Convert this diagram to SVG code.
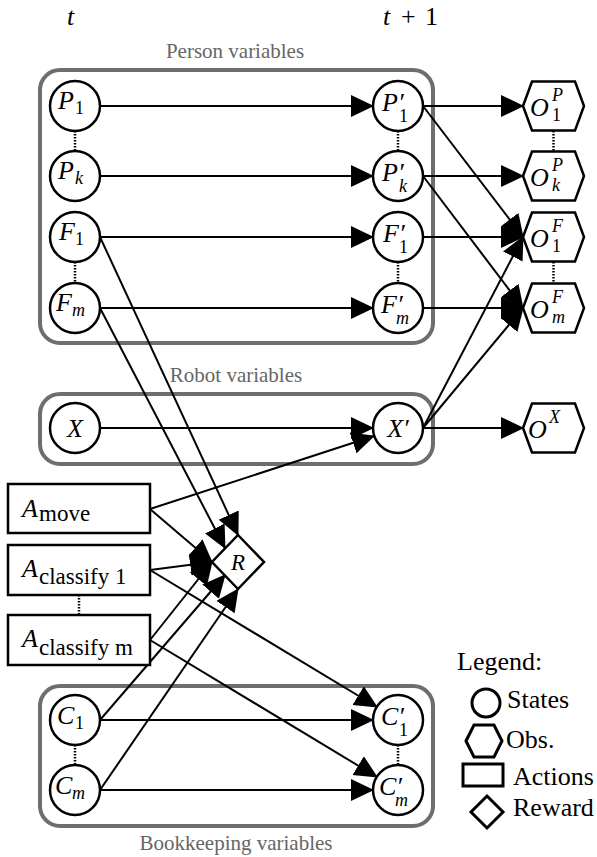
<svg xmlns="http://www.w3.org/2000/svg" width="597" height="857" viewBox="0 0 597 857">
<style>
.st{fill:#fff;stroke:#000;stroke-width:2.5}
.lg{fill:#fff;stroke:#000;stroke-width:3}
.grp{fill:none;stroke:#6e6e6e;stroke-width:4}
.e{stroke:#000;stroke-width:2;fill:none;marker-end:url(#arr)}
.dot{stroke:#000;stroke-width:2.5;stroke-dasharray:1.5 1.5}
.m{font-style:italic;font-size:26px;fill:#000}
.s{font-style:normal;font-size:18px}
.si{font-style:italic;font-size:18px}
.a{font-size:23px;fill:#000}
.lbl{font-size:21px;fill:#666;text-anchor:middle}
.leg{font-size:26px;fill:#000}
</style>
<defs>
<marker id="arr" markerUnits="userSpaceOnUse" markerWidth="24" markerHeight="24" refX="22" refY="11" orient="auto"><path d="M0,0 L23,11 L0,22 z" fill="#000"/></marker>
</defs>
<rect width="597" height="857" fill="#fff"/>

<g id="time-labels" font-family="Liberation Serif, serif">
<text class="m" x="67" y="25">t</text>
<text class="m" y="25"><tspan x="383">t</tspan><tspan x="401" style="font-style:normal">+</tspan><tspan x="425" style="font-style:normal">1</tspan></text>
</g>

<g id="groups" font-family="Liberation Serif, serif">
<rect id="person-box" class="grp" x="40" y="70" width="393" height="273" rx="20"/>
<text class="lbl" x="235" y="58">Person variables</text>
<rect id="robot-box" class="grp" x="40" y="394" width="393" height="70" rx="20"/>
<text class="lbl" x="236" y="382">Robot variables</text>
<rect id="bookkeeping-box" class="grp" x="40" y="686" width="393" height="140" rx="20"/>
<text class="lbl" x="236" y="850">Bookkeeping variables</text>
</g>

<g id="connectors">
<line class="e" x1="100" y1="106" x2="373" y2="106"/>
<line class="e" x1="100" y1="176" x2="373" y2="176"/>
<line class="e" x1="100" y1="237" x2="373" y2="237"/>
<line class="e" x1="100" y1="308" x2="373" y2="308"/>
<line class="e" x1="100" y1="428" x2="373" y2="428"/>
<line class="e" x1="100" y1="720" x2="373" y2="720"/>
<line class="e" x1="100" y1="790" x2="373" y2="790"/>
<line class="e" x1="423" y1="106" x2="523" y2="106"/>
<line class="e" x1="423" y1="176" x2="523" y2="176"/>
<line class="e" x1="423" y1="237" x2="523" y2="237"/>
<line class="e" x1="423" y1="308" x2="523" y2="308"/>
<line class="e" x1="423" y1="428" x2="523" y2="428"/>
<line class="e" x1="423" y1="106" x2="523" y2="237"/>
<line class="e" x1="423" y1="176" x2="523" y2="308"/>
<line class="e" x1="423" y1="428" x2="523" y2="237"/>
<line class="e" x1="423" y1="428" x2="523" y2="308"/>
<line class="e" x1="100" y1="237" x2="238" y2="535"/>
<line class="e" x1="100" y1="308" x2="225" y2="548"/>
<line class="e" x1="150" y1="509" x2="374" y2="436"/>
<line class="e" x1="150" y1="509" x2="212" y2="562"/>
<line class="e" x1="150" y1="570" x2="212" y2="562"/>
<line class="e" x1="150" y1="640" x2="212" y2="562"/>
<line class="e" x1="100" y1="720" x2="225" y2="575"/>
<line class="e" x1="100" y1="790" x2="238" y2="589"/>
<line class="e" x1="150" y1="570" x2="377" y2="707"/>
<line class="e" x1="150" y1="640" x2="377" y2="777"/>
</g>

<g id="dots">
<line class="dot" x1="75" y1="131" x2="75" y2="151"/>
<line class="dot" x1="75" y1="262" x2="75" y2="283"/>
<line class="dot" x1="398" y1="131" x2="398" y2="151"/>
<line class="dot" x1="398" y1="262" x2="398" y2="283"/>
<line class="dot" x1="553.5" y1="131" x2="553.5" y2="151"/>
<line class="dot" x1="553.5" y1="262" x2="553.5" y2="283"/>
<line class="dot" x1="75" y1="745" x2="75" y2="765"/>
<line class="dot" x1="398" y1="745" x2="398" y2="765"/>
<line class="dot" x1="79" y1="595" x2="79" y2="615"/>
</g>

<g id="nodes" font-family="Liberation Serif, serif">
<g id="P1"><circle class="st" cx="75" cy="106" r="25"/><text class="m" y="109"><tspan x="58">P</tspan><tspan class="s" x="75" y="114">1</tspan></text></g>
<g id="Pk"><circle class="st" cx="75" cy="176" r="25"/><text class="m" y="179"><tspan x="58">P</tspan><tspan class="si" x="75" y="184">k</tspan></text></g>
<g id="F1"><circle class="st" cx="75" cy="237" r="25"/><text class="m" y="240"><tspan x="59">F</tspan><tspan class="s" x="75" y="245">1</tspan></text></g>
<g id="Fm"><circle class="st" cx="75" cy="308" r="25"/><text class="m" y="311"><tspan x="56">F</tspan><tspan class="si" x="72" y="316">m</tspan></text></g>
<g id="P1p"><circle class="st" cx="398" cy="106" r="25"/><text class="m" y="111"><tspan x="382">P′</tspan><tspan class="s" x="399" y="122">1</tspan></text></g>
<g id="Pkp"><circle class="st" cx="398" cy="176" r="25"/><text class="m" y="181"><tspan x="382">P′</tspan><tspan class="si" x="399" y="192">k</tspan></text></g>
<g id="F1p"><circle class="st" cx="398" cy="237" r="25"/><text class="m" y="242"><tspan x="383">F′</tspan><tspan class="s" x="399" y="253">1</tspan></text></g>
<g id="Fmp"><circle class="st" cx="398" cy="308" r="25"/><text class="m" y="313"><tspan x="381">F′</tspan><tspan class="si" x="396" y="324">m</tspan></text></g>
<g id="X"><circle class="st" cx="75" cy="428" r="25"/><text class="m" x="75" y="437" text-anchor="middle">X</text></g>
<g id="Xp"><circle class="st" cx="398" cy="428" r="25"/><text class="m" x="398" y="437" text-anchor="middle">X′</text></g>
<g id="C1"><circle class="st" cx="75" cy="720" r="25"/><text class="m" y="724"><tspan x="57">C</tspan><tspan class="s" x="75" y="729">1</tspan></text></g>
<g id="Cm"><circle class="st" cx="75" cy="790" r="25"/><text class="m" y="794"><tspan x="55">C</tspan><tspan class="si" x="72" y="799">m</tspan></text></g>
<g id="C1p"><circle class="st" cx="398" cy="720" r="25"/><text class="m" y="725"><tspan x="381">C′</tspan><tspan class="s" x="399" y="736">1</tspan></text></g>
<g id="Cmp"><circle class="st" cx="398" cy="790" r="25"/><text class="m" y="795"><tspan x="379">C′</tspan><tspan class="si" x="395" y="806">m</tspan></text></g>

<g id="O1P"><polygon class="st" points="523,106 532,81.5 575,81.5 584,106 575,130.5 532,130.5"/><text class="m" y="116"><tspan x="530">O</tspan><tspan class="si" x="552" y="101">P</tspan><tspan class="s" x="552" y="121">1</tspan></text></g>
<g id="OkP"><polygon class="st" points="523,176 532,151.5 575,151.5 584,176 575,200.5 532,200.5"/><text class="m" y="186"><tspan x="530">O</tspan><tspan class="si" x="552" y="171">P</tspan><tspan class="si" x="552" y="191">k</tspan></text></g>
<g id="O1F"><polygon class="st" points="523,237 532,212.5 575,212.5 584,237 575,261.5 532,261.5"/><text class="m" y="247"><tspan x="530">O</tspan><tspan class="si" x="552" y="232">F</tspan><tspan class="s" x="552" y="252">1</tspan></text></g>
<g id="OmF"><polygon class="st" points="523,308 532,283.5 575,283.5 584,308 575,332.5 532,332.5"/><text class="m" y="318"><tspan x="530">O</tspan><tspan class="si" x="552" y="303">F</tspan><tspan class="si" x="552" y="323">m</tspan></text></g>
<g id="OX"><polygon class="st" points="523,428 532,403.5 575,403.5 584,428 575,452.5 532,452.5"/><text class="m" y="438"><tspan x="528">O</tspan><tspan class="si" x="549" y="423">X</tspan></text></g>

<g id="Amove"><rect class="st" x="8" y="484" width="142" height="49"/><text class="a"><tspan class="m" x="22" y="517">A</tspan><tspan x="39" y="521">move</tspan></text></g>
<g id="Aclassify1"><rect class="st" x="8" y="545" width="142" height="50"/><text class="a"><tspan class="m" x="22" y="577">A</tspan><tspan x="39" y="584">classify 1</tspan></text></g>
<g id="Aclassifym"><rect class="st" x="8" y="615" width="142" height="50"/><text class="a"><tspan class="m" x="22" y="647">A</tspan><tspan x="39" y="655">classify m</tspan></text></g>

<g id="R"><polygon class="st" points="238,535 264,562 238,589 212,562"/><text class="m" x="238" y="570" text-anchor="middle" style="font-size:23px">R</text></g>
</g>

<g id="legend" font-family="Liberation Serif, serif">
<text class="leg" x="457" y="670">Legend:</text>
<circle class="lg" cx="486" cy="703" r="14"/>
<text class="leg" x="507" y="708">States</text>
<polygon class="lg" points="466,741 474,725 494,725 502,741 494,757 474,757"/>
<text class="leg" x="506" y="748">Obs.</text>
<rect class="lg" x="463" y="764" width="40" height="22"/>
<text class="leg" x="513" y="785">Actions</text>
<polygon class="lg" points="487,796 503,812 487,828 471,812"/>
<text class="leg" x="513" y="816">Reward</text>
</g>
</svg>
